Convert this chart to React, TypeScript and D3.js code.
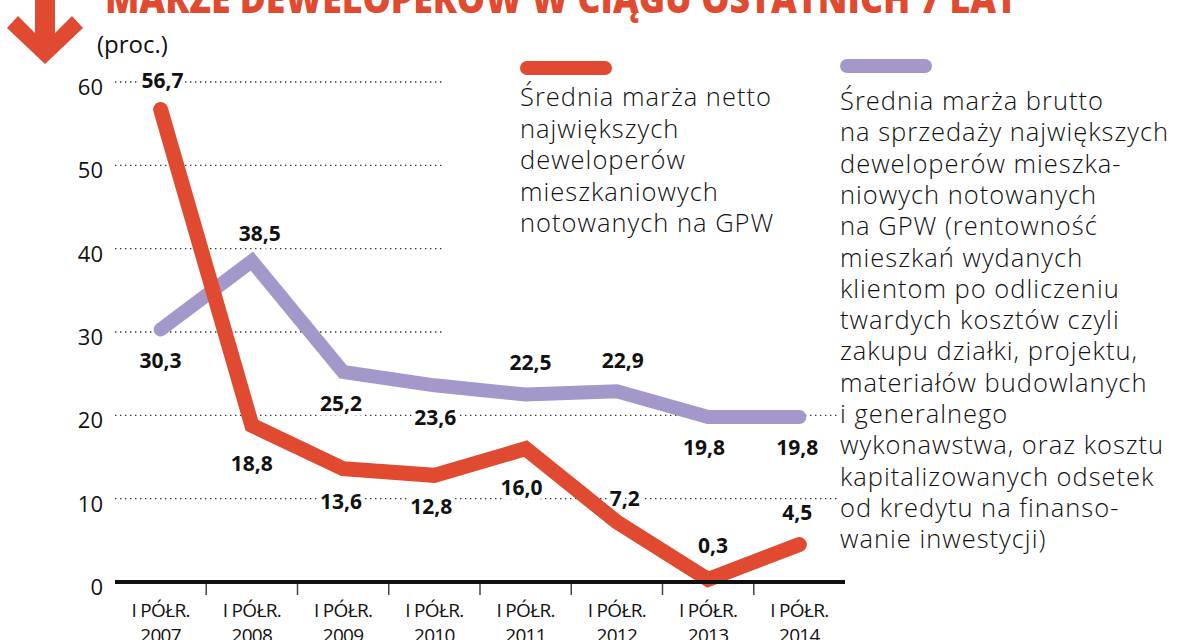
import React from "react";
import * as d3 from "d3";

// Half-year periods shown on the x axis
const years = ["2007", "2008", "2009", "2010", "2011", "2012", "2013", "2014"];
const periodLabel = "I PÓŁR.";

// Average net margin of the largest listed residential developers (%)
const netMargin = [56.7, 18.8, 13.6, 12.8, 16.0, 7.2, 0.3, 4.5];
// Average gross margin on sales (%)
const grossMargin = [30.3, 38.5, 25.2, 23.6, 22.5, 22.9, 19.8, 19.8];

const yTicks = [0, 10, 20, 30, 40, 50, 60];

const title = "MARŻE DEWELOPERÓW W CIĄGU OSTATNICH 7 LAT";
const unitLabel = "(proc.)";

const netLegend = [
  "Średnia marża netto",
  "największych",
  "deweloperów",
  "mieszkaniowych",
  "notowanych na GPW",
];
const grossLegend = [
  "Średnia marża brutto",
  "na sprzedaży największych",
  "deweloperów mieszka-",
  "niowych notowanych",
  "na GPW (rentowność",
  "mieszkań wydanych",
  "klientom po odliczeniu",
  "twardych kosztów czyli",
  "zakupu działki, projektu,",
  "materiałów budowlanych",
  "i generalnego",
  "wykonawstwa, oraz kosztu",
  "kapitalizowanych odsetek",
  "od kredytu na finanso-",
  "wanie inwestycji)",
];

// Label placement around each point: [dx, dy]
const netLabelOffset: [number, number][] = [
  [2, -29], [0, 38], [-2, 33], [-3, 31], [-4, 39], [8, -24], [5, -34], [-2, -32],
];
const grossLabelOffset: [number, number][] = [
  [0, 31], [8, -28], [-2, 31], [1, 32], [5, -32], [6, -31], [-4, 30], [-2, 30],
];

const RED = "#df4a30";
const PURPLE = "#a498ca";
const FONT = "'Open Sans', 'Noto Sans', sans-serif";

const fmt = (v: number) => d3.format(".1f")(v).replace(".", ",");

export default function App() {
  const x = d3.scaleBand<string>().domain(years).range([115, 845]);
  const y = d3.scaleLinear().domain([0, 60]).range([582, 82]);
  const cx = (d: string) => (x(d) as number) + x.bandwidth() / 2;

  const line = d3
    .line<number>()
    .x((_, i) => cx(years[i]))
    .y((v) => y(v));

  const labels = [
    ...netMargin.map((v, i) => ({ v, i, off: netLabelOffset[i] })),
    ...grossMargin.map((v, i) => ({ v, i, off: grossLabelOffset[i] })),
  ];

  const labelNodes = (halo: boolean) =>
    labels.map((l, k) => (
      <text
        key={k}
        x={cx(years[l.i]) + l.off[0]}
        y={y(l.v) + l.off[1] + 7.5}
        textAnchor="middle"
        fontFamily={FONT}
        fontWeight={700}
        fontSize={21}
        fill={halo ? "#fff" : "#111"}
        stroke={halo ? "#fff" : "none"}
        strokeWidth={halo ? 9 : 0}
        strokeLinejoin="round"
      >
        {fmt(l.v)}
      </text>
    ));

  const boundaries = years.slice(1).map((d) => x(d) as number);

  return (
    <svg
      width={1200}
      height={640}
      style={{ position: "absolute", left: 0, top: 0, background: "#fff" }}
    >
      {/* title and arrow */}
      <polygon
        points="35,0 55,0 55,33 72,16 83,28 45,64 7,28 18,16 35,33"
        fill={RED}
      />
      <text
        x={105}
        y={13}
        fontFamily={FONT}
        fontWeight={800}
        fontSize={40}
        fill={RED}
        textLength={912}
        lengthAdjust="spacingAndGlyphs"
      >
        {title}
      </text>
      <text x={97} y={53} fontFamily={FONT} fontSize={24} fill="#111">
        {unitLabel}
      </text>

      {/* gridlines */}
      {yTicks
        .filter((t) => t > 0)
        .map((t) => (
          <line
            key={t}
            x1={115}
            x2={t >= 30 ? 443 : 838}
            y1={y(t)}
            y2={y(t)}
            stroke="#333"
            strokeWidth={1.4}
            strokeDasharray="1.4 3.6"
          />
        ))}
      {yTicks.map((t) => (
        <text
          key={t}
          x={103}
          y={y(t) + 13}
          textAnchor="end"
          fontFamily={FONT}
          fontSize={22}
          fill="#111"
        >
          {t}
        </text>
      ))}

      {/* x axis */}
      {boundaries.map((b, i) => (
        <line key={i} x1={b} x2={b} y1={582} y2={595} stroke="#444" strokeWidth={1.5} />
      ))}
      {years.map((d) => (
        <text
          key={d}
          x={cx(d)}
          y={617}
          textAnchor="middle"
          fontFamily={FONT}
          fontSize={19}
          letterSpacing={-0.7}
          fill="#111"
        >
          <tspan x={cx(d)}>{periodLabel}</tspan>
          <tspan x={cx(d)} dy={25}>
            {d}
          </tspan>
        </text>
      ))}

      {labelNodes(true)}

      {/* series */}
      <path
        d={line(grossMargin) || ""}
        fill="none"
        stroke={PURPLE}
        strokeWidth={14}
        strokeLinecap="round"
        strokeLinejoin="miter"
      />
      <path
        d={line(netMargin) || ""}
        fill="none"
        stroke={RED}
        strokeWidth={15}
        strokeLinecap="round"
        strokeLinejoin="miter"
      />
      <line x1={115} x2={845} y1={582} y2={582} stroke="#111" strokeWidth={4} />

      {labelNodes(false)}

      {/* legend */}
      <line x1={527} x2={605} y1={68} y2={68} stroke={RED} strokeWidth={14} strokeLinecap="round" />
      <line x1={847} x2={925} y1={66} y2={66} stroke={PURPLE} strokeWidth={14} strokeLinecap="round" />
      <text fontFamily={FONT} fontWeight={300} fontSize={25.5} letterSpacing={1} fill="#111">
        {netLegend.map((s, i) => (
          <tspan key={i} x={520} y={106 + i * 31.5}>
            {s}
          </tspan>
        ))}
      </text>
      <text fontFamily={FONT} fontWeight={300} fontSize={25.5} letterSpacing={1} fill="#111">
        {grossLegend.map((s, i) => (
          <tspan key={i} x={840} y={110 + i * 31.3}>
            {s}
          </tspan>
        ))}
      </text>
    </svg>
  );
}
